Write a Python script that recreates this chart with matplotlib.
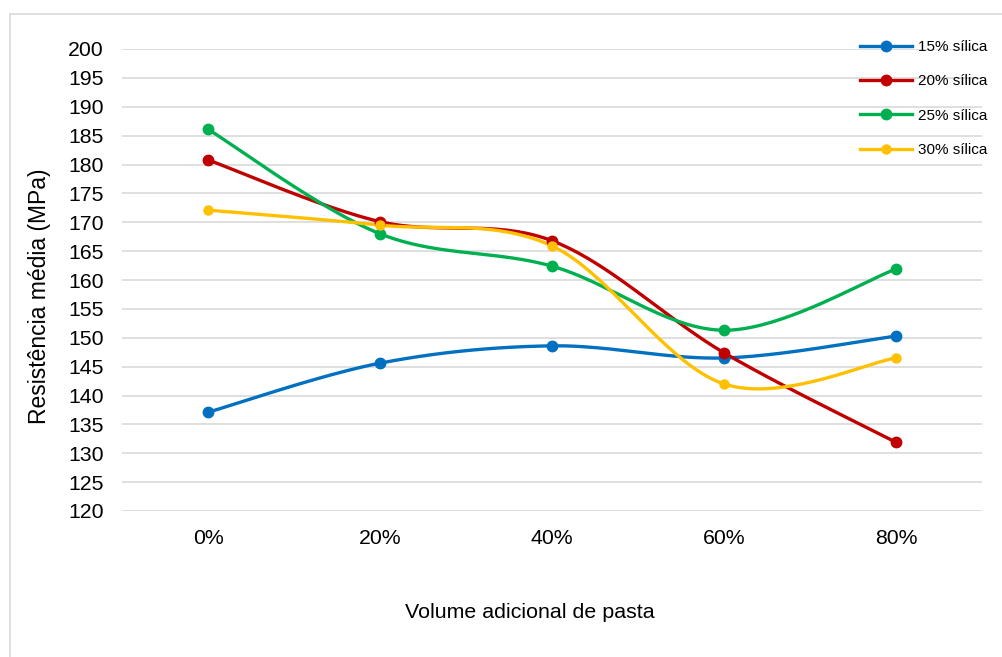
import numpy as np
import matplotlib.pyplot as plt
from matplotlib.lines import Line2D

plt.rcParams['font.family'] = ['Liberation Sans', 'DejaVu Sans']

# Data
categorias = ['0%', '20%', '40%', '60%', '80%']
silica_15 = [137.1, 145.6, 148.6, 146.5, 150.3]
silica_20 = [180.8, 170.1, 166.8, 147.4, 131.9]
silica_25 = [186.1, 168.0, 162.4, 151.3, 161.9]
silica_30 = [172.1, 169.5, 165.9, 142.0, 146.5]

series = [
    ('15% sílica', silica_15, '#0070C0', 7.5),
    ('20% sílica', silica_20, '#C00000', 7.5),
    ('25% sílica', silica_25, '#00B050', 7.5),
    ('30% sílica', silica_30, '#FFC000', 6.5),
]


def suavizar(x, y, n=40):
    # curva de Bezier tipo Catmull-Rom (linha suavizada)
    p = np.column_stack([x, y]).astype(float)
    pts = np.vstack([p[0], p, p[-1]])
    t = np.linspace(0, 1, n)[:, None]
    out = []
    for i in range(1, len(pts) - 2):
        p0, p1, p2, p3 = pts[i - 1], pts[i], pts[i + 1], pts[i + 2]
        c1 = p1 + (p2 - p0) / 6
        c2 = p2 - (p3 - p1) / 6
        seg = ((1 - t) ** 3) * p1 + 3 * ((1 - t) ** 2) * t * c1 \
            + 3 * (1 - t) * t ** 2 * c2 + t ** 3 * p2
        out.append(seg)
    out = np.vstack(out)
    return out[:, 0], out[:, 1]


fig = plt.figure(figsize=(10.03, 6.57), dpi=100)
W, H = 1003, 657
ax = fig.add_axes([122 / W, 1 - 511 / H, (982 - 122) / W, (511 - 49) / H])

# moldura do gráfico
fig.add_artist(Line2D([10 / W, 1], [1 - 14 / H, 1 - 14 / H], color='#d9d9d9', lw=1.2))
fig.add_artist(Line2D([10 / W, 10 / W], [0, 1 - 14 / H], color='#d9d9d9', lw=1.2))

x = np.arange(len(categorias))
handles = []
for nome, vals, cor, ms in series:
    xs, ys = suavizar(x, vals)
    ax.plot(xs, ys, color=cor, lw=2.4, solid_capstyle='round', zorder=3)
    ax.plot(x, vals, 'o', color=cor, ms=ms, zorder=4)
    handles.append(Line2D([], [], color=cor, lw=2.4, marker='o', ms=ms))

ax.set_xlim(-0.5, 4.5)
ax.set_ylim(120, 200)
ax.set_yticks(np.arange(120, 201, 5))
ax.set_xticks(x)
ax.set_xticklabels(categorias)
ax.grid(axis='y', color='#d9d9d9', lw=1.2)
ax.set_axisbelow(True)
for s in ax.spines.values():
    s.set_visible(False)
ax.tick_params(length=0, labelsize=15.3, colors='black')
ax.tick_params(axis='y', pad=13)
ax.tick_params(axis='x', pad=13)

ax.set_ylabel('Resistência média (MPa)', fontsize=16.5, va='center')
ax.yaxis.set_label_coords(40 / W, 1 - 296 / H, transform=fig.transFigure)
fig.text(530 / W, 1 - 613 / H, 'Volume adicional de pasta', fontsize=15.4,
         ha='center', va='center')

ax.legend(handles, [s[0] for s in series], loc='upper left',
          bbox_to_anchor=(860 / W, 1 - 40 / H), bbox_transform=fig.transFigure,
          frameon=False, fontsize=11, handlelength=3.4, handletextpad=0.4,
          labelspacing=1.33, borderaxespad=0, borderpad=0)

fig.savefig('out.png', dpi=100)
